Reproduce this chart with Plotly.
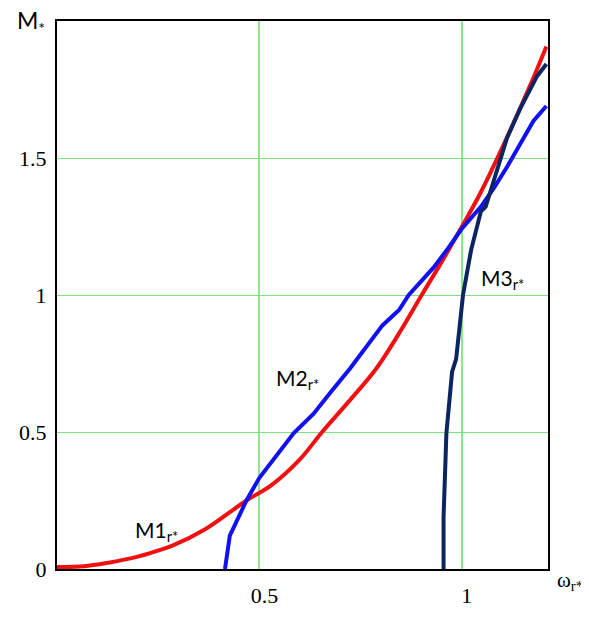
import plotly.graph_objects as go

# M1 (red)
m1_x = [0.0, 0.066, 0.123, 0.2, 0.245, 0.285, 0.366, 0.468, 0.529, 0.60, 0.655, 0.72, 0.788, 0.845,
        0.901, 0.95, 0.999, 1.047, 1.10, 1.169, 1.209]
m1_y = [0.007, 0.01, 0.022, 0.045, 0.065, 0.085, 0.145, 0.25, 0.305, 0.40, 0.5, 0.61, 0.73, 0.86,
        1.0, 1.12, 1.246, 1.375, 1.538, 1.765, 1.907]

# M2 (blue)
m2_x = [0.415, 0.427, 0.468, 0.5, 0.585, 0.634, 0.675, 0.723, 0.804, 0.845, 0.869, 0.909, 0.93,
        0.966, 0.999, 1.047, 1.08, 1.112, 1.145, 1.177, 1.209]
m2_y = [0.0, 0.122, 0.25, 0.333, 0.496, 0.567, 0.643, 0.73, 0.889, 0.945, 1.0, 1.064, 1.10,
        1.17, 1.24, 1.322, 1.392, 1.468, 1.55, 1.635, 1.69]

# M3 (navy)
m3_x = [0.955, 0.955, 0.962, 0.971, 0.976, 0.986, 0.994, 1.003, 1.023, 1.047, 1.059, 1.08, 1.104,
        1.112, 1.144, 1.185, 1.209]
m3_y = [0.0, 0.19, 0.496, 0.637, 0.719, 0.766, 0.871, 1.0, 1.164, 1.304, 1.322, 1.421, 1.538,
        1.574, 1.679, 1.796, 1.843]

x_ticks = [0.5, 1]
x_tick_text = ["0.5", "1"]
y_ticks = [0, 0.5, 1, 1.5]
y_tick_text = ["0", "0.5", "1", "1.5"]

labels = ["M1<sub>r*</sub>", "M2<sub>r*</sub>", "M3<sub>r*</sub>"]
label_x = [0.187, 0.537, 1.043]
label_y = [0.137, 0.695, 1.057]

fig = go.Figure()
fig.add_trace(go.Scatter(x=m1_x, y=m1_y, mode="lines", line=dict(color="#f01010", width=4), line_shape="spline"))
fig.add_trace(go.Scatter(x=m2_x, y=m2_y, mode="lines", line=dict(color="#1010f0", width=4)))
fig.add_trace(go.Scatter(x=m3_x, y=m3_y, mode="lines", line=dict(color="#0b2462", width=4)))

for t, lx, ly in zip(labels, label_x, label_y):
    fig.add_annotation(x=lx, y=ly, xref="x", yref="y", text=t, showarrow=False,
                       xanchor="left", yanchor="middle",
                       font=dict(family="Lato", size=21, color="black"))

fig.add_annotation(x=-0.052, y=1.0, xref="paper", yref="paper", text="M<sub>*</sub>",
                   showarrow=False, xanchor="center", yanchor="middle",
                   font=dict(family="Lato", size=23, color="black"))
fig.add_annotation(x=1.044, y=-0.022, xref="paper", yref="paper", text="ω<sub>r*</sub>",
                   showarrow=False, xanchor="center", yanchor="middle",
                   font=dict(family="Liberation Serif", size=21, color="black"))

fig.update_layout(
    width=581, height=611,
    margin=dict(l=41, r=41, t=11, b=31),
    paper_bgcolor="white", plot_bgcolor="white",
    showlegend=False,
    xaxis=dict(range=[0, 1.213], tickvals=x_ticks, ticktext=x_tick_text,
               showgrid=True, gridcolor="#8fe68f", gridwidth=2, zeroline=False,
               showline=True, linecolor="black", linewidth=2, mirror=True, ticks="",
               tickfont=dict(family="Liberation Serif", size=22, color="black"),
               ticklabelshift=5, ticklabelstandoff=6),
    yaxis=dict(range=[0, 2.0], tickvals=y_ticks, ticktext=y_tick_text,
               showgrid=True, gridcolor="#7fe07f", gridwidth=1, zeroline=False,
               showline=True, linecolor="black", linewidth=2, mirror=True, ticks="",
               tickfont=dict(family="Liberation Serif", size=22, color="black"),
               ticklabelstandoff=4),
)

fig.write_html("out.html")
